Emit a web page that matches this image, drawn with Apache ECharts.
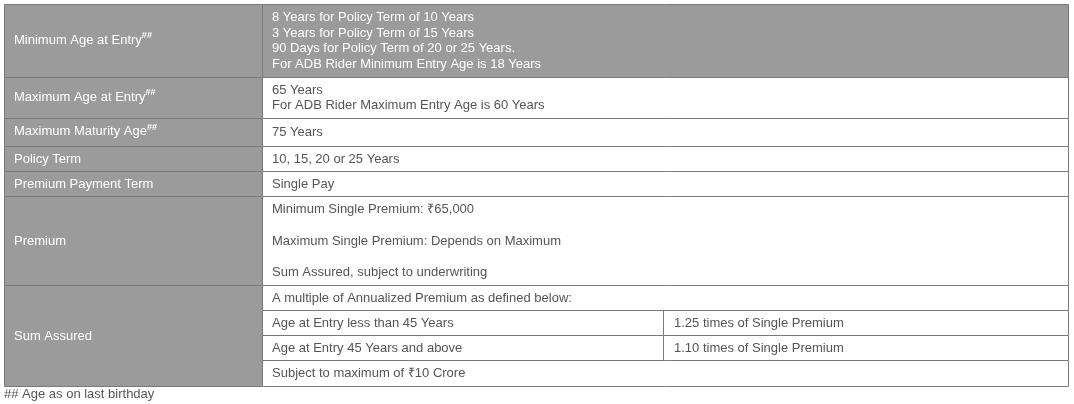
<!DOCTYPE html>
<html><head><meta charset="utf-8">
<script src="https://cdn.jsdelivr.net/npm/echarts@6/dist/echarts.min.js"></script>
<style>html,body{margin:0;padding:0;background:#fff}#c{width:1074px;height:404px}</style>
</head><body><div id="c"></div>
<script>
const labels = ["Minimum Age at Entry", "Maximum Age at Entry", "Maximum Maturity Age", "Policy Term", "Premium Payment Term", "Premium", "Sum Assured"];
const labelSup = [true, true, true, false, false, false, false];
const values = [
  ["8 Years for Policy Term of 10 Years", "3 Years for Policy Term of 15 Years", "90 Days for Policy Term of 20 or 25 Years.", "For ADB Rider Minimum Entry Age is 18 Years"],
  ["65 Years", "For ADB Rider Maximum Entry Age is 60 Years"],
  ["75 Years"],
  ["10, 15, 20 or 25 Years"],
  ["Single Pay"],
  ["Minimum Single Premium: ₹65,000", "", "Maximum Single Premium: Depends on Maximum", "", "Sum Assured, subject to underwriting"]
];
const sumRows = [["A multiple of Annualized Premium as defined below:"], ["Age at Entry less than 45 Years", "1.25 times of Single Premium"], ["Age at Entry 45 Years and above", "1.10 times of Single Premium"], ["Subject to maximum of ₹10 Crore"]];
const footnote = "## Age as on last birthday";
const rowEdges = [4, 77, 118, 146, 171, 196, 285, 386];
const sumEdges = [285, 310, 335, 360, 386];

const X0 = 4, X1 = 262, X2 = 663, X3 = 1068, GRAY = '#9b9b9b', BORDER = '#7a7a7a', FONT = 'Liberation Sans, Arial, sans-serif';
const els = [];
function rect(x, y, w, h, fill) { els.push({type: 'rect', shape: {x, y, width: w, height: h}, style: {fill, stroke: BORDER, lineWidth: 1}}); }
function text(x, y, t, color, rich) { els.push({type: 'text', x, y, style: {text: t, fill: color, font: '13px ' + FONT, verticalAlign: 'middle', rich: rich}}); }
const supRich = {s: {fontSize: 9, fill: '#fff', verticalAlign: 'bottom', padding: [0, 0, 8, 0], fontFamily: FONT, fontWeight: 'bold'}, n: {fontSize: 13, fill: '#fff', fontFamily: FONT}};
labels.forEach((l, i) => {
  const y0 = rowEdges[i] + 0.5, y1 = rowEdges[i + 1] + 0.5;
  rect(X0 + 0.5, y0, X1 - X0, y1 - y0, GRAY);
  const cy = (y0 + y1) / 2;
  if (labelSup[i]) text(14, cy - 1, '{n|' + l + '}{s|##}', '#fff', supRich);
  else text(14, cy, l, '#fff');
  if (i < values.length) {
    const top = i === 0;
    rect(X1 + 0.5, y0, X3 - X1, y1 - y0, top ? GRAY : '#fff');
    const lines = values[i], n = lines.length;
    const lh = i === 5 ? 15.7 : 15.7;
    lines.forEach((t, k) => { if (t) text(272, cy + (k - (n - 1) / 2) * lh, t, top ? '#fff' : '#555'); });
  }
});
sumRows.forEach((r, k) => {
  const y0 = sumEdges[k] + 0.5, y1 = sumEdges[k + 1] + 0.5, cy = (y0 + y1) / 2;
  if (r.length === 2) {
    rect(X1 + 0.5, y0, X2 - X1, y1 - y0, '#fff'); rect(X2 + 0.5, y0, X3 - X2, y1 - y0, '#fff');
    text(272, cy, r[0], '#555'); text(674, cy, r[1], '#555');
  } else { rect(X1 + 0.5, y0, X3 - X1, y1 - y0, '#fff'); text(272, cy, r[0], '#555'); }
});
text(4, 394, footnote, '#555');
const chart = echarts.init(document.getElementById('c'));
chart.setOption({animation: false, graphic: {elements: els}});
</script></body></html>
